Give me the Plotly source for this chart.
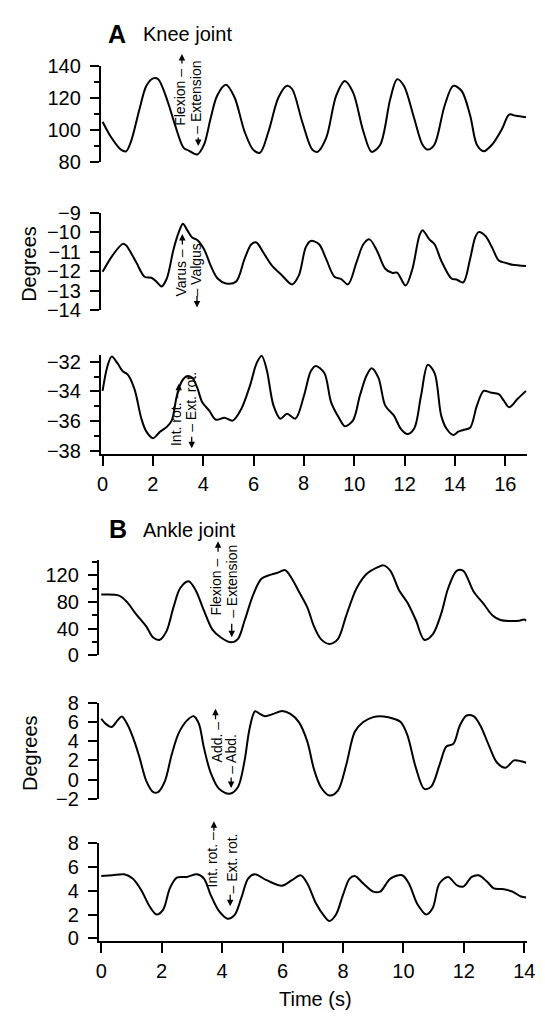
import plotly.graph_objects as go

W, H = 545, 1021
FONT = "Liberation Sans, Arial, Helvetica, sans-serif"

# ---------------- data ----------------
knee_flex_t = [0, 0.32, 0.73, 0.93, 1.13, 1.47, 1.74, 2.01, 2.21, 2.55, 2.88, 3.22, 3.42, 3.76,
               4.03, 4.29, 4.55, 4.9, 5.24, 5.64, 5.98, 6.25, 6.59, 6.99, 7.33, 7.53, 7.93, 8.33,
               8.54, 8.88, 9.28, 9.62, 9.95, 10.36, 10.69, 11.03, 11.43, 11.7, 11.97, 12.38,
               12.71, 12.92, 13.18, 13.59, 13.93, 14.26, 14.6, 14.87, 15.14, 15.47, 15.88, 16.15,
               16.42, 16.82]
knee_flex = [105.2, 95.9, 87.6, 86.5, 92.8, 113.4, 127.8, 132.5, 132, 119.6, 103, 88.7, 87, 84.5,
             90.7, 107.2, 121.6, 128.5, 120.6, 99, 87.6, 85.6, 99, 120.6, 127.8, 125.8, 105.2, 87.6,
             86.2, 94.8, 121.6, 130.9, 123.7, 99, 86.2, 90.7, 119.6, 132, 127.8, 107.2,
             90.7, 87.6, 90.7, 115.4, 127.8, 124.7, 109.3, 90.7, 86.6, 90.7, 101, 109.7,
             108.9, 108]

knee_var_t = [0, 0.39, 0.8, 0.93, 1.33, 1.67, 1.94, 2.14, 2.34, 2.55, 2.82, 3.02, 3.19, 3.35, 3.56,
              3.76, 4.03, 4.29, 4.57, 4.9, 5.3, 5.64, 5.91, 6.11, 6.38, 6.72, 7.12, 7.53, 7.8, 8.07,
              8.27, 8.6, 8.88, 9.21, 9.48, 9.75, 10.09, 10.36, 10.6, 10.9, 11.23, 11.5, 11.7, 12.04,
              12.31, 12.58, 12.71, 12.98, 13.19, 13.45, 13.86, 14.06, 14.33, 14.6, 14.8, 14.94,
              15.21, 15.47, 15.74, 16.01, 16.28, 16.82]
knee_var = [-12.03, -11.2, -10.6, -10.67, -11.53, -12.28, -12.33, -12.53, -12.78, -12.37, -10.87,
            -10.03, -9.57, -9.87, -10.28, -10.4, -10.87, -11.7, -12.37, -12.62, -12.53, -11.37,
            -10.62, -10.53, -11.03, -11.7, -12.2, -12.67, -12.2, -10.78, -10.45, -10.62, -11.37,
            -12.28, -12.4, -12.67, -11.53, -10.62, -10.37, -10.95, -11.87, -12.08, -12.07, -12.73,
            -11.87, -10.2, -9.9, -10.37, -10.62, -11.45, -12.37, -12.42, -12.57, -11.37, -10.28,
            -10.0, -10.2, -10.78, -11.45, -11.57, -11.67, -11.73]

knee_rot_t = [0, 0.19, 0.36, 0.59, 0.8, 1.0, 1.27, 1.54, 1.74, 2.01, 2.28, 2.55, 2.75, 2.95, 3.15,
              3.35, 3.56, 3.76, 3.96, 4.23, 4.5, 4.84, 5.17, 5.51, 5.85, 6.12, 6.32, 6.52, 6.79,
              7.06, 7.33, 7.66, 8.0, 8.27, 8.47, 8.81, 9.08, 9.41, 9.62, 9.95, 10.22, 10.49, 10.69,
              10.96, 11.23, 11.57, 11.84, 12.11, 12.38, 12.65, 12.92, 13.19, 13.45, 13.66, 13.93,
              14.13, 14.33, 14.6, 14.87, 15.14, 15.41, 15.74, 15.94, 16.15, 16.48, 16.82]
knee_rot = [-33.96, -32.33, -31.67, -32.11, -32.65, -32.87, -33.86, -35.82, -36.69, -37.13,
            -36.69, -36.37, -35.93, -34.29, -33.31, -32.98, -33.09, -33.75, -34.73, -35.27,
            -35.89, -35.76, -35.95, -35.17, -33.64, -32.11, -31.62, -32.55, -34.95, -35.82,
            -35.49, -35.82, -34.29, -32.65, -32.29, -32.77, -34.73, -35.82, -36.32, -35.93,
            -34.29, -32.92, -32.44, -33.09, -34.95, -35.6, -36.48, -36.85, -36.48, -34.29,
            -32.22, -32.77, -35.6, -36.48, -36.91, -36.69, -36.58, -36.43, -34.95, -33.96,
            -34.07, -34.18, -34.62, -35.06, -34.51, -33.96]

ankle_flex_t = [0, 0.59, 0.87, 1.1, 1.27, 1.49, 1.72, 1.94, 2.16, 2.39, 2.61, 2.89, 3.12, 3.4,
                3.68, 3.96, 4.29, 4.52, 4.75, 5.03, 5.3, 5.59, 5.81, 6.09, 6.31, 6.54, 6.82, 7.04,
                7.27, 7.55, 7.83, 8.11, 8.45, 8.78, 9.12, 9.34, 9.57, 9.85, 10.13, 10.41, 10.69,
                10.97, 11.25, 11.48, 11.76, 11.98, 12.32, 12.66, 12.94, 13.21, 13.5, 13.83, 14.0,
                14.06]
ankle_flex = [91, 89.5, 79, 64.8, 55.2, 43.3, 26.7, 23.3, 36.2, 71.9, 100.5, 111, 98, 67, 38.6,
              26.7, 19.5, 24.3, 52.9, 91, 114.8, 120.5, 123.3, 127.6, 114.8, 95.7, 71.9, 43.3,
              24.3, 17.1, 24.3, 60, 100.5, 121.9, 131.4, 134.8, 126.7, 98, 79, 52.9, 23.3, 31.4,
              62.4, 100.5, 126.7, 126.7, 95.7, 76.7, 60, 52.9, 51.4, 51.9, 53.8, 51.9]

ankle_add_t = [0, 0.14, 0.34, 0.54, 0.68, 0.88, 1.1, 1.27, 1.49, 1.72, 1.88, 2.11, 2.33, 2.56,
               2.84, 3.06, 3.23, 3.4, 3.62, 3.9, 4.24, 4.52, 4.74, 4.91, 5.09, 5.25, 5.42, 5.7,
               5.98, 6.26, 6.54, 6.82, 7.04, 7.27, 7.55, 7.83, 8.11, 8.39, 8.67, 9.0, 9.34, 9.68,
               9.91, 10.13, 10.41, 10.69, 10.92, 11.2, 11.42, 11.65, 11.87, 12.09, 12.32, 12.54,
               12.82, 13.1, 13.38, 13.66, 13.89, 14.06]
ankle_add = [6.36, 5.85, 5.5, 6.19, 6.6, 5.68, 3.97, 2.27, -0.13, -1.31, -1.31, -0.13, 2.6, 4.83,
             6.19, 6.63, 5.85, 3.29, 0.73, -0.98, -1.49, -0.8, 1.92, 5.34, 7.14, 6.87, 6.63, 6.87,
             7.18, 6.87, 6.01, 3.97, 1.07, -0.8, -1.66, -1.15, 1.58, 4.99, 6.01, 6.53, 6.6, 6.36,
             6.01, 4.65, 1.24, -0.98, -0.74, 1.58, 3.46, 3.73, 5.68, 6.7, 6.63, 5.68,
             3.63, 1.76, 1.24, 2.0, 1.92, 1.76]

ankle_rot_t = [0, 0.37, 0.76, 1.04, 1.32, 1.6, 1.83, 2.05, 2.27, 2.5, 2.84, 3.17, 3.4, 3.62, 3.9,
               4.18, 4.41, 4.63, 4.86, 5.08, 5.47, 5.98, 6.31, 6.6, 6.82, 7.1, 7.38, 7.55, 7.77,
               8.0, 8.22, 8.39, 8.67, 9.0, 9.23, 9.57, 9.96, 10.18, 10.47, 10.75, 10.97, 11.19,
               11.48, 11.76, 11.98, 12.26, 12.49, 12.77, 12.99, 13.27, 13.61, 13.89, 14.06]
ankle_rot = [5.25, 5.31, 5.39, 5.03, 4.07, 2.7, 2.01, 2.42, 4.21, 5.11, 5.17, 5.39, 5.03, 3.66,
             2.28, 1.65, 1.95, 3.36, 5.03, 5.39, 4.9, 4.43, 4.9, 5.31, 4.62, 2.97, 1.87, 1.46,
             2.01, 3.66, 5.03, 5.25, 4.62, 3.93, 3.93, 5.03, 5.31, 4.62, 2.84, 2.01, 2.56, 4.62,
             5.17, 4.49, 4.35, 5.17, 5.31, 4.76, 4.21, 4.15, 3.93, 3.52, 3.44]

knee_ticks_x = list(range(0, 17, 2))
knee_ticks_text = [str(v) for v in knee_ticks_x]
ankle_ticks_x = list(range(0, 15, 2))

# ---------------- figure ----------------
fig = go.Figure()

series = [
    (knee_flex_t, knee_flex, "x", "y"),
    (knee_var_t, knee_var, "x2", "y2"),
    (knee_rot_t, knee_rot, "x3", "y3"),
    (ankle_flex_t, ankle_flex, "x4", "y4"),
    (ankle_add_t, ankle_add, "x5", "y5"),
    (ankle_rot_t, ankle_rot, "x6", "y6"),
]
for t, v, xa, ya in series:
    fig.add_trace(go.Scatter(x=t, y=v, mode="lines", xaxis=xa, yaxis=ya,
                             line=dict(color="black", width=2, shape="spline", smoothing=0.9),
                             showlegend=False, hoverinfo="skip"))


def py(p):
    return 1 - p / H


XA_DOM = [99.2 / W, 535.5 / W]
XB_DOM = [97.2 / W, 535.5 / W]
XA_RANGE = [-0.07, 16.85]
XB_RANGE = [-0.078, 14.08]

tickfont = dict(size=20, family=FONT, color="black")

yaxis_common = dict(showline=True, linecolor="black", linewidth=2, ticks="outside",
                    ticklen=9, tickwidth=2, tickcolor="black", showgrid=False,
                    zeroline=False, tickfont=tickfont, ticklabelstandoff=5)
hidden_x = dict(visible=False, showgrid=False, zeroline=False)
shown_x = dict(showline=True, linecolor="black", linewidth=2, ticks="outside", ticklen=10,
               tickwidth=2, tickcolor="black", showgrid=False, zeroline=False,
               tickfont=tickfont, ticklabelstandoff=1)

# the "8" of the knee time axis sits a little lower in the original; drawn separately
knee_ticks_shown = [("" if v == 8 else s) for v, s in zip(knee_ticks_x, knee_ticks_text)]

layout = dict(
    width=W, height=H, margin=dict(l=0, r=0, t=0, b=0),
    paper_bgcolor="white", plot_bgcolor="white", showlegend=False,
    font=dict(family=FONT, color="black"),
    xaxis=dict(domain=XA_DOM, range=XA_RANGE, anchor="y", **hidden_x),
    xaxis2=dict(domain=XA_DOM, range=XA_RANGE, anchor="y2", **hidden_x),
    xaxis3=dict(domain=XA_DOM, range=XA_RANGE, anchor="y3", tickmode="array",
                tickvals=knee_ticks_x, ticktext=knee_ticks_shown, **shown_x),
    xaxis4=dict(domain=XB_DOM, range=XB_RANGE, anchor="y4", **hidden_x),
    xaxis5=dict(domain=XB_DOM, range=XB_RANGE, anchor="y5", **hidden_x),
    xaxis6=dict(domain=XB_DOM, range=XB_RANGE, anchor="y6", tickmode="array",
                tickvals=ankle_ticks_x, **shown_x),
    yaxis=dict(domain=[py(154), py(56.7)], range=[80, 140], anchor="x",
               tickmode="linear", tick0=80, dtick=20,
               minor=dict(ticks="outside", ticklen=5, tickwidth=1.5, tickcolor="black",
                          dtick=10, tick0=80, showgrid=False), **yaxis_common),
    yaxis2=dict(domain=[py(306), py(206)], range=[-14, -9], anchor="x2",
                tickmode="linear", tick0=-14, dtick=1, **yaxis_common),
    yaxis3=dict(domain=[py(452.7), py(351.7)], range=[-38.18, -31.57], anchor="x3",
                tickmode="linear", tick0=-38, dtick=2,
                minor=dict(ticks="outside", ticklen=5, tickwidth=1.5, tickcolor="black",
                           dtick=1, tick0=-38, showgrid=False), **yaxis_common),
    yaxis4=dict(domain=[py(658.5), py(561)], range=[0, 143], anchor="x4",
                tickmode="linear", tick0=0, dtick=40,
                minor=dict(ticks="outside", ticklen=5, tickwidth=1.5, tickcolor="black",
                           dtick=20, tick0=0, showgrid=False), **yaxis_common),
    yaxis5=dict(domain=[py(805), py(707.3)], range=[-2, 8], anchor="x5",
                tickmode="linear", tick0=-2, dtick=2, **yaxis_common),
    yaxis6=dict(domain=[py(950), py(850.7)], range=[-0.19, 8], anchor="x6",
                tickmode="linear", tick0=0, dtick=2, **yaxis_common),
)
fig.update_layout(**layout)

ann = []


def text(t, xc, yc, size=14, angle=0, xanchor="center"):
    ann.append(dict(x=xc / W, y=py(yc), xref="paper", yref="paper", text=t, showarrow=False,
                    textangle=angle, xanchor=xanchor, yanchor="middle",
                    font=dict(size=size, family=FONT, color="black")))


def arrow(x, y_head, y_tail):
    ann.append(dict(x=x / W, y=py(y_head), xref="paper", yref="paper", text="", showarrow=True,
                    ax=0, ay=y_tail - y_head, arrowhead=2, arrowsize=1, arrowwidth=1.3,
                    arrowcolor="black", standoff=0, startstandoff=0))


# panel titles
text("<b>A</b>", 116, 23, size=25)
text("Knee joint", 140.5, 24, size=20, xanchor="left")
text("<b>B</b>", 117, 529, size=25)
text("Ankle joint", 140.5, 530, size=20, xanchor="left")

# axis titles
text("Degrees", 26, 258, size=20, angle=-90)
text("Degrees", 26, 758, size=20, angle=-90)
text("Time (s)", 319, 1010, size=20)

# the lowered "8" tick label of the knee time axis
ann.append(dict(x=8, y=py(482), xref="x3", yref="paper", text="8", showarrow=False,
                xanchor="center", yanchor="middle",
                font=dict(size=20, family=FONT, color="black")))

# direction labels
text("Flexion \u2013", 180, 88, angle=-90)
text("\u2013 Extension", 197, 88.3, angle=-90)
arrow(182.3, 44, 55)
arrow(199, 138, 128)

text("Varus \u2013", 181.7, 268, angle=-90)
text("\u2013 Valgus", 197, 265, angle=-90)
arrow(182.7, 228, 240)
arrow(197.7, 303, 290)

text("Int. rot. \u2013", 176.2, 416, angle=-90)
text("\u2013 Ext. rot.", 192, 399, angle=-90)
arrow(179, 381, 391)
arrow(192.3, 447, 434)

text("Flexion \u2013", 217.5, 589, angle=-90)
text("\u2013 Extension", 234, 583, angle=-90)
arrow(219.3, 542, 554)
arrow(233.3, 640, 625)

text("Add. \u2013", 217.7, 747, angle=-90)
text("\u2013 Abd.", 231.7, 759, angle=-90)
arrow(216.7, 713, 725)
arrow(232.7, 794, 782)

text("Int. rot. \u2013", 212.7, 867.5, angle=-90)
text("\u2013 Ext. rot.", 233.3, 871.5, angle=-90)
arrow(215, 828, 839)
arrow(231.7, 915, 902)

fig.update_layout(annotations=ann)
fig.write_html("out.html")
